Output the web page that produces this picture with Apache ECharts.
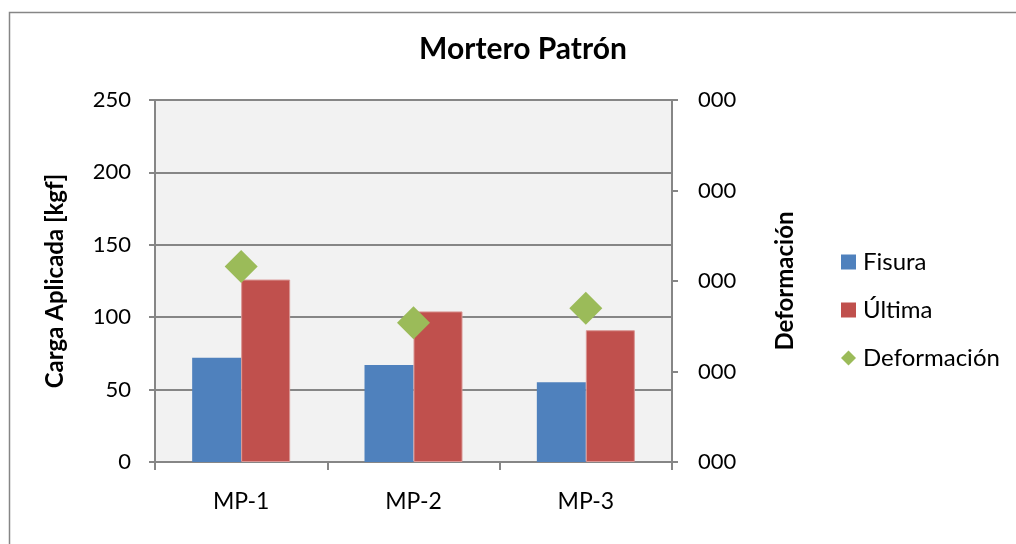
<!DOCTYPE html>
<html>
<head>
<meta charset="utf-8">
<script src="https://cdn.jsdelivr.net/npm/echarts@6/dist/echarts.min.js"></script>
<style>
  html, body { margin: 0; padding: 0; background: #ffffff; }
  #chart { width: 1016px; height: 544px; }
</style>
</head>
<body>
<div id="chart"></div>
<script>
// Ensayos de mortero patrón: carga de fisura, carga última y deformación
const categories = ['MP-1', 'MP-2', 'MP-3'];
const fisura = [72, 67, 55];
const ultima = [126, 104, 91];
const deformacion = [2.16, 1.54, 1.70];
const leftTicks = ['0', '50', '100', '150', '200', '250'];
const rightTicks = ['000', '000', '000', '000', '000'];

const FONT = 'Lato';
const axisGray = '#868686';

const chart = echarts.init(document.getElementById('chart'), null, { renderer: 'canvas' });

chart.setOption({
  backgroundColor: '#ffffff',
  animation: false,
  textStyle: { fontFamily: FONT, color: '#000' },
  title: {
    text: 'Mortero Patrón',
    left: 518,
    textAlign: 'center',
    top: 29,
    textStyle: { fontFamily: FONT, fontSize: 30, fontWeight: 'bold', color: '#000' }
  },
  graphic: [{
    type: 'rect',
    shape: { x: 9.5, y: 12.5, width: 1010, height: 540 },
    style: { fill: 'none', stroke: '#868686', lineWidth: 1.5 },
    silent: true
  }],
  legend: {
    orient: 'vertical',
    left: 836,
    top: 245,
    itemWidth: 15,
    itemHeight: 15,
    itemGap: 24,
    itemStyle: { borderWidth: 0 },
    textStyle: { fontFamily: FONT, fontSize: 24, color: '#000', padding: [0, 0, 0, 2] },
    data: [
      { name: 'Fisura', icon: 'rect' },
      { name: 'Última', icon: 'rect' },
      { name: 'Deformación', icon: 'diamond' }
    ]
  },
  grid: { left: 155, right: 344, top: 100, bottom: 82, containLabel: false,
          show: true, backgroundColor: '#F2F2F2', borderWidth: 0 },
  xAxis: {
    type: 'category',
    data: categories,
    axisLine: { lineStyle: { color: axisGray, width: 2 } },
    axisTick: { show: true, alignWithLabel: false, length: 8, lineStyle: { color: axisGray, width: 2 } },
    axisLabel: { fontFamily: FONT, fontSize: 23, color: '#000', margin: 28 }
  },
  yAxis: [{
    type: 'value',
    min: 0, max: 250, interval: 50,
    name: 'Carga Aplicada [kgf]',
    nameLocation: 'middle',
    nameGap: 88,
    nameRotate: 90,
    nameTextStyle: { fontFamily: FONT, fontSize: 24, fontWeight: 'bold', color: '#000' },
    axisLine: { show: true, lineStyle: { color: axisGray, width: 2 } },
    axisTick: { show: true, length: 6, lineStyle: { color: axisGray, width: 2 } },
    splitLine: { show: true, lineStyle: { color: axisGray, width: 2 } },
    axisLabel: {
      fontFamily: FONT, fontSize: 22, color: '#000', margin: 24,
      formatter: (v, i) => leftTicks[i]
    }
  }, {
    type: 'value',
    min: 0, max: 4, interval: 1,
    position: 'right',
    name: 'Deformación',
    nameLocation: 'middle',
    nameGap: 101,
    nameRotate: 90,
    nameTextStyle: { fontFamily: FONT, fontSize: 24, fontWeight: 'bold', color: '#000' },
    axisLine: { show: true, lineStyle: { color: axisGray, width: 2 } },
    axisTick: { show: true, length: 6, lineStyle: { color: axisGray, width: 2 } },
    splitLine: { show: false },
    axisLabel: {
      fontFamily: FONT, fontSize: 22, color: '#000', margin: 26,
      formatter: (v, i) => rightTicks[i]
    }
  }],
  series: [{
    name: 'Fisura',
    type: 'bar',
    data: fisura,
    barWidth: 49,
    barGap: '0%',
    itemStyle: { color: '#4F81BD' }
  }, {
    name: 'Última',
    type: 'bar',
    data: ultima,
    barWidth: 49,
    barGap: '0%',
    itemStyle: { color: '#C0504D', borderColor: '#D99694', borderWidth: 1 }
  }, {
    name: 'Deformación',
    type: 'scatter',
    yAxisIndex: 1,
    data: deformacion,
    symbol: 'diamond',
    symbolSize: 33,
    itemStyle: { color: '#9BBB59', opacity: 1 }
  }]
});
</script>
</body>
</html>
